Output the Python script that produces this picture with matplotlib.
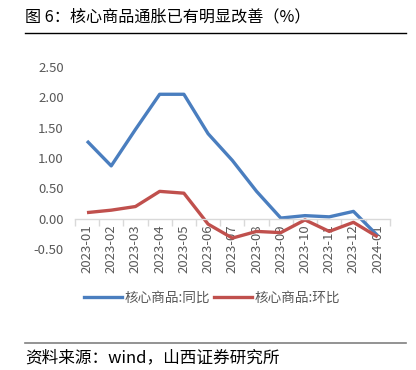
import matplotlib.pyplot as plt
from matplotlib.lines import Line2D

plt.rcParams['font.family'] = ['Noto Sans CJK SC', 'DejaVu Sans']

months = ['2023-01', '2023-02', '2023-03', '2023-04', '2023-05', '2023-06', '2023-07',
          '2023-08', '2023-09', '2023-10', '2023-11', '2023-12', '2024-01']
yoy = [1.28, 0.87, 1.47, 2.05, 2.05, 1.40, 0.96, 0.45, 0.01, 0.05, 0.03, 0.12, -0.28]
mom = [0.10, 0.14, 0.20, 0.45, 0.42, -0.09, -0.32, -0.21, -0.23, -0.02, -0.21, -0.06, -0.30]
yticks = [-0.5, 0.0, 0.5, 1.0, 1.5, 2.0, 2.5]

fig = plt.figure(figsize=(4.16, 3.70), dpi=100)
ax = fig.add_axes([0.18, 0.327, 0.757, 0.492])

x = list(range(len(months)))
ax.plot(x, yoy, color='#4A7EBF', lw=2.4, solid_capstyle='butt')
ax.plot(x, mom, color='#C0504D', lw=2.4, solid_capstyle='butt')

ax.set_xlim(-0.5, len(months) - 0.5)
ax.set_ylim(-0.5, 2.5)
ax.set_yticks(yticks)
ax.set_yticklabels([f'{v:.2f}' for v in yticks], color='#595959', fontsize=9.5)
ax.tick_params(axis='y', length=0, pad=8)

for s in ['top', 'right', 'left']:
    ax.spines[s].set_visible(False)
ax.spines['bottom'].set_position(('data', 0))
ax.spines['bottom'].set_color('#D9D9D9')
ax.spines['bottom'].set_linewidth(1)

ax.set_xticks(x)
ax.set_xticklabels(months, rotation=90, color='#595959', fontsize=9.5)
ax.tick_params(axis='x', which='major', length=0, pad=4)
ax.set_xticks([i - 0.5 for i in range(len(months) + 1)], minor=True)
ax.tick_params(axis='x', which='minor', length=5, color='#D9D9D9', width=1)

handles = [Line2D([], [], color='#4A7EBF', lw=2.4),
           Line2D([], [], color='#C0504D', lw=2.4)]
fig.legend(handles, ['核心商品:同比', '核心商品:环比'], loc='center',
           bbox_to_anchor=(0.51, 0.195), ncol=2, frameon=False, fontsize=9.8,
           labelcolor='#595959', handlelength=2.8, handletextpad=0.2, columnspacing=0.3)

fig.text(0.06, 0.955, '图 6：核心商品通胀已有明显改善（%）', fontsize=11.6, va='center', ha='left')
fig.add_artist(Line2D([0.06, 0.975], [0.91, 0.91], color='black', lw=1))
fig.add_artist(Line2D([0.06, 0.975], [0.073, 0.073], color='#808080', lw=1.2))
fig.text(0.06, 0.032, '资料来源：wind，山西证券研究所', fontsize=12, va='center', ha='left')

fig.savefig('out.png', dpi=100)
